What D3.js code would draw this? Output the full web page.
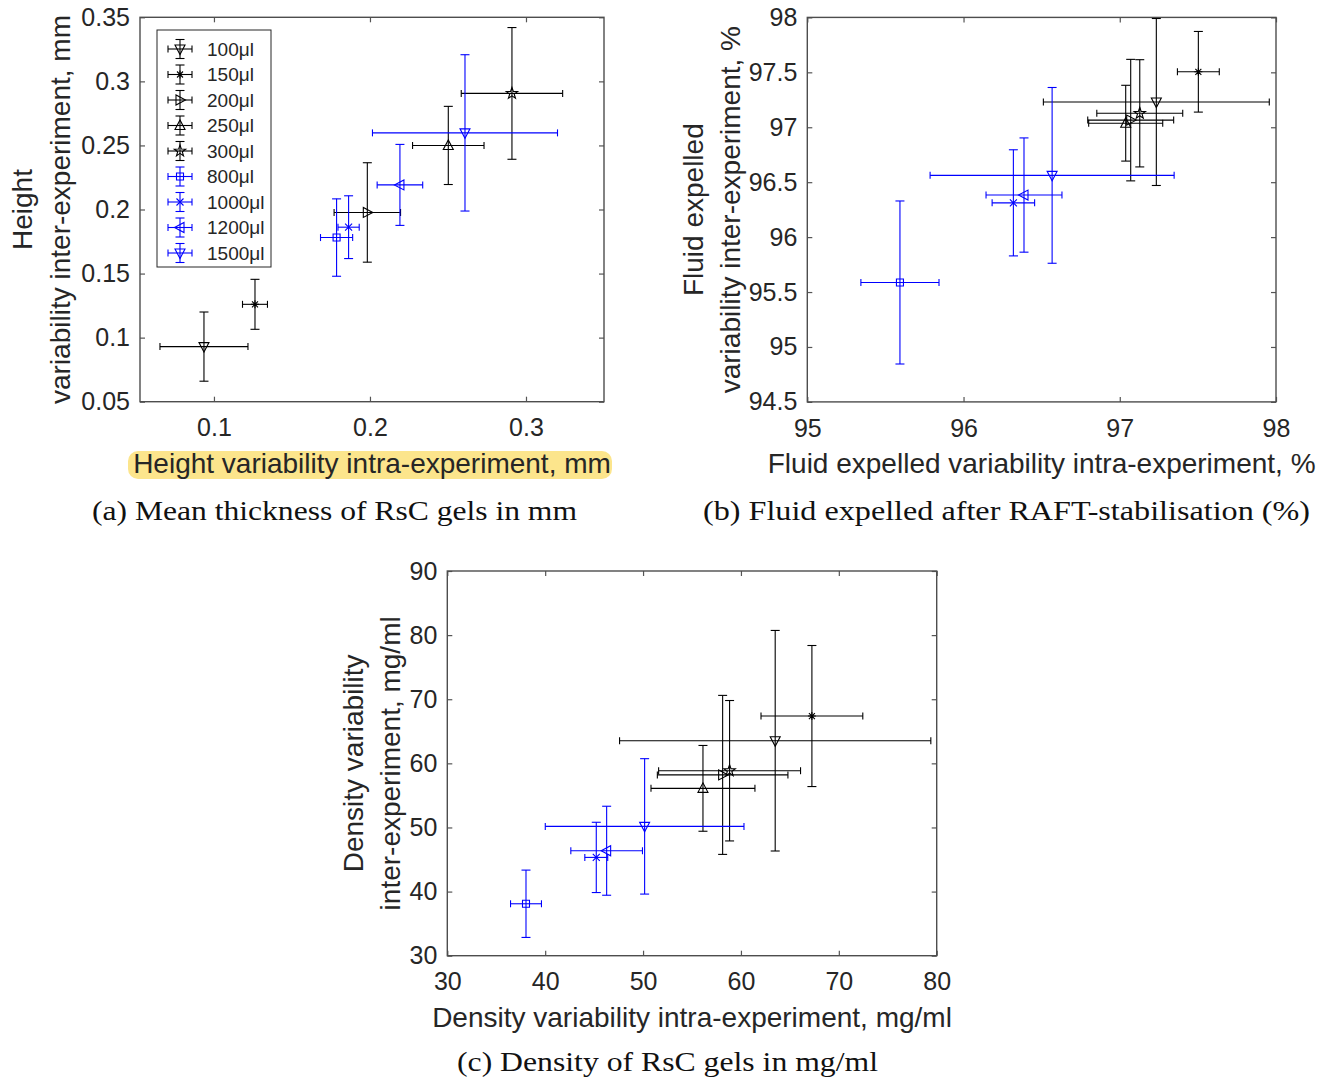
<!DOCTYPE html>
<html>
<head>
<meta charset="utf-8">
<script src="https://cdn.jsdelivr.net/npm/d3@7"></script>
<style>
  body { margin: 0; background: #fff; }
  text { font-family: "Liberation Sans", Arial, sans-serif; fill: #262626; }
  .cap { font-family: "Liberation Serif", serif; fill: #111; }
</style>
</head>
<body>
<svg id="fig" width="1325" height="1081"></svg>
<script>
// series (same order in every panel)
const volumes = ["100μl", "150μl", "200μl", "250μl", "300μl", "800μl", "1000μl", "1200μl", "1500μl"];
const markers = ["v", "*", ">", "^", "p", "s", "x", "<", "v"];
const colours = ["#000", "#000", "#000", "#000", "#000", "#0000ff", "#0000ff", "#0000ff", "#0000ff"];

// (a) height, mm
const heightIntra    = [0.0936, 0.1263, 0.1983, 0.2502, 0.2910, 0.1786, 0.1863, 0.2192, 0.2609];
const heightIntraErr = [0.0282, 0.0080, 0.0213, 0.0229, 0.0325, 0.0103, 0.0068, 0.0146, 0.0593];
const heightInter    = [0.0930, 0.1260, 0.1977, 0.2500, 0.2906, 0.1781, 0.1862, 0.2192, 0.2598];
const heightInterErr = [0.0270, 0.0195, 0.0388, 0.0305, 0.0514, 0.0302, 0.0245, 0.0316, 0.0610];
const heightTicksX = [0.1, 0.2, 0.3];
const heightTicksY = [0.05, 0.1, 0.15, 0.2, 0.25, 0.3, 0.35];

// (b) fluid expelled, %
const fluidIntra    = [97.234, 97.503, 97.070, 97.038, 97.128, 95.593, 96.319, 96.387, 96.567];
const fluidIntraErr = [0.723, 0.134, 0.275, 0.237, 0.275, 0.250, 0.136, 0.243, 0.781];
const fluidInter    = [97.230, 97.505, 97.065, 97.037, 97.127, 95.587, 96.312, 96.383, 96.562];
const fluidInterErr = [0.760, 0.367, 0.553, 0.345, 0.488, 0.742, 0.483, 0.520, 0.800];
const fluidTicksX = [95, 96, 97, 98];
const fluidTicksY = [94.5, 95, 95.5, 96, 96.5, 97, 97.5, 98];

// (c) density, mg/ml
const densityIntra    = [63.50, 67.25, 58.13, 56.12, 58.84, 38.04, 45.22, 46.28, 50.16];
const densityIntraErr = [15.90, 5.20, 6.67, 5.31, 7.25, 1.58, 1.17, 3.66, 10.15];
const densityInter    = [63.53, 67.38, 58.20, 56.10, 58.85, 38.10, 45.33, 46.37, 50.17];
const densityInterErr = [17.20, 11.00, 12.40, 6.69, 10.95, 5.25, 5.48, 6.94, 10.56];
const densityTicksX = [30, 40, 50, 60, 70, 80];
const densityTicksY = [30, 40, 50, 60, 70, 80, 90];

const svg = d3.select("#fig");
const TICK_FONT = 25, LABEL_FONT = 28;

function markerPath(m) {
  switch (m) {
    case "v": return "M-5,-4L5,-4L0,5.5Z";
    case "^": return "M-5,4L5,4L0,-5.5Z";
    case ">": return "M-4,-5L-4,5L5.5,0Z";
    case "<": return "M4,-5L4,5L-5.5,0Z";
    case "s": return "M-3.5,-3.5H3.5V3.5H-3.5Z";
    case "x": return "M-3.5,-3.5L3.5,3.5M-3.5,3.5L3.5,-3.5";
    case "*": return "M0,-4V4M-4,0H4M-3,-3L3,3M-3,3L3,-3";
    case "p": {
      let d = "";
      for (let k = 0; k < 10; k++) {
        const r = k % 2 === 0 ? 6 : 2.4;
        const a = -Math.PI / 2 + k * Math.PI / 5;
        d += (k === 0 ? "M" : "L") + (r * Math.cos(a)).toFixed(2) + "," + (r * Math.sin(a)).toFixed(2);
      }
      return d + "Z";
    }
  }
}

// one series point with both error bars
function drawPoint(g, cx, cy, x0, x1, y0, y1, m, col) {
  const p = g.append("g").attr("stroke", col).attr("stroke-width", 1.1).attr("fill", "none");
  p.append("line").attr("x1", x0).attr("x2", x1).attr("y1", cy).attr("y2", cy);
  p.append("line").attr("x1", x0).attr("x2", x0).attr("y1", cy - 3.5).attr("y2", cy + 3.5);
  p.append("line").attr("x1", x1).attr("x2", x1).attr("y1", cy - 3.5).attr("y2", cy + 3.5);
  p.append("line").attr("x1", cx).attr("x2", cx).attr("y1", y0).attr("y2", y1);
  p.append("line").attr("x1", cx - 4.5).attr("x2", cx + 4.5).attr("y1", y0).attr("y2", y0);
  p.append("line").attr("x1", cx - 4.5).attr("x2", cx + 4.5).attr("y1", y1).attr("y2", y1);
  p.append("path").attr("d", markerPath(m)).attr("transform", `translate(${cx},${cy})`);
}

function drawPanel(cfg) {
  const xScale = d3.scaleLinear().domain(cfg.xDomain).range([cfg.x0, cfg.x1]);
  const yScale = d3.scaleLinear().domain(cfg.yDomain).range([cfg.y1, cfg.y0]);
  const g = svg.append("g");

  // highlight behind x label
  if (cfg.highlight) {
    g.append("rect")
      .attr("x", 128).attr("y", 451).attr("width", 484).attr("height", 28)
      .attr("rx", 10).attr("fill", "#fce58c");
  }

  const bottom = g.append("g").attr("transform", `translate(0,${cfg.y1})`)
    .call(d3.axisBottom(xScale).tickValues(cfg.xTicks).tickFormat(d => String(d))
      .tickSizeInner(-5).tickSizeOuter(0).tickPadding(17));
  const top = g.append("g").attr("transform", `translate(0,${cfg.y0})`)
    .call(d3.axisTop(xScale).tickValues(cfg.xTicks).tickFormat("").tickSizeInner(-5).tickSizeOuter(0));
  const left = g.append("g").attr("transform", `translate(${cfg.x0},0)`)
    .call(d3.axisLeft(yScale).tickValues(cfg.yTicks).tickFormat(d => String(d))
      .tickSizeInner(-5).tickSizeOuter(0).tickPadding(10));
  const right = g.append("g").attr("transform", `translate(${cfg.x1},0)`)
    .call(d3.axisRight(yScale).tickValues(cfg.yTicks).tickFormat("").tickSizeInner(-5).tickSizeOuter(0));
  [bottom, top, left, right].forEach(a => {
    a.select(".domain").remove();
    a.selectAll(".tick line").attr("stroke", "#555").attr("stroke-width", 1.2);
    a.selectAll(".tick text").attr("font-size", TICK_FONT).attr("fill", "#262626")
      .attr("font-family", "Liberation Sans, Arial, sans-serif");
  });

  g.append("rect")
    .attr("x", cfg.x0).attr("y", cfg.y0)
    .attr("width", cfg.x1 - cfg.x0).attr("height", cfg.y1 - cfg.y0)
    .attr("fill", "none").attr("stroke", "#4d4d4d").attr("stroke-width", 1.4);

  const pts = g.append("g");
  volumes.forEach((v, i) => {
    drawPoint(pts,
      xScale(cfg.xs[i]), yScale(cfg.ys[i]),
      xScale(cfg.xs[i] - cfg.xe[i]), xScale(cfg.xs[i] + cfg.xe[i]),
      yScale(cfg.ys[i] + cfg.ye[i]), yScale(cfg.ys[i] - cfg.ye[i]),
      markers[i], colours[i]);
  });

  const midX = (cfg.x0 + cfg.x1) / 2, midY = (cfg.y0 + cfg.y1) / 2;
  g.append("text")
    .attr("x", midX).attr("y", cfg.y1 + 61).attr("dy", "0.35em")
    .attr("text-anchor", "middle").attr("font-size", LABEL_FONT)
    .text(cfg.xLabel);
  cfg.yLabel.forEach((line, k) => {
    g.append("text")
      .attr("transform", `translate(${cfg.yLabelX[k]},${midY}) rotate(-90)`)
      .attr("dy", "0.35em").attr("text-anchor", "middle").attr("font-size", LABEL_FONT)
      .text(line);
  });

  g.append("text").attr("class", "cap")
    .attr("x", cfg.capX).attr("y", cfg.capY)
    .attr("text-anchor", "middle").attr("font-size", 27)
    .attr("textLength", cfg.capW).attr("lengthAdjust", "spacingAndGlyphs")
    .text(cfg.caption);

  if (cfg.legend) {
    const lg = g.append("g");
    lg.append("rect").attr("x", 157).attr("y", 30).attr("width", 114).attr("height", 237)
      .attr("fill", "#fff").attr("stroke", "#262626").attr("stroke-width", 1);
    volumes.forEach((v, i) => {
      const ey = 49 + i * 25.5;
      drawPoint(lg, 180, ey, 168, 192, ey - 9.5, ey + 9.5, markers[i], colours[i]);
      lg.append("text").attr("x", 207).attr("y", ey).attr("dy", "0.36em")
        .attr("font-size", 19).text(v);
    });
  }
}

drawPanel({
  x0: 140, x1: 604, y0: 17.3, y1: 401.7,
  xDomain: [0.0526, 0.35], yDomain: [0.05, 0.35],
  xTicks: heightTicksX, yTicks: heightTicksY,
  xs: heightIntra, xe: heightIntraErr, ys: heightInter, ye: heightInterErr,
  xLabel: "Height variability intra-experiment, mm",
  yLabel: ["Height", "variability inter-experiment, mm"], yLabelX: [22, 60],
  caption: "(a) Mean thickness of RsC gels in mm", capX: 334.5, capY: 520, capW: 485,
  legend: true, highlight: true
});

drawPanel({
  x0: 807.3, x1: 1276, y0: 17.4, y1: 401.9,
  xDomain: [95, 98], yDomain: [94.5, 98],
  xTicks: fluidTicksX, yTicks: fluidTicksY,
  xs: fluidIntra, xe: fluidIntraErr, ys: fluidInter, ye: fluidInterErr,
  xLabel: "Fluid expelled variability intra-experiment, %",
  yLabel: ["Fluid expelled", "variability inter-experiment, %"], yLabelX: [693, 730],
  caption: "(b) Fluid expelled after RAFT-stabilisation (%)", capX: 1006.5, capY: 520, capW: 607
});

drawPanel({
  x0: 447.3, x1: 936.7, y0: 571, y1: 955.7,
  xDomain: [30, 80], yDomain: [30, 90],
  xTicks: densityTicksX, yTicks: densityTicksY,
  xs: densityIntra, xe: densityIntraErr, ys: densityInter, ye: densityInterErr,
  xLabel: "Density variability intra-experiment, mg/ml",
  yLabel: ["Density variability", "inter-experiment, mg/ml"], yLabelX: [353, 390],
  caption: "(c) Density of RsC gels in mg/ml", capX: 667.5, capY: 1071, capW: 421
});
</script>
</body>
</html>
